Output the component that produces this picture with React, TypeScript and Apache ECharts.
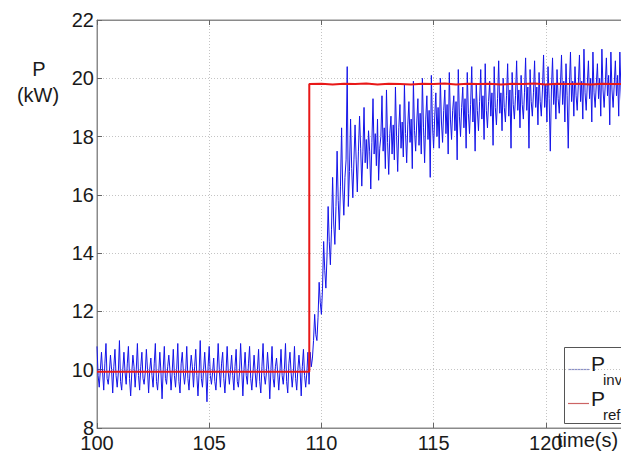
import React, { useEffect, useRef } from "react";
import * as echarts from "echarts";

// Sampling of the measured inverter power trace
const T0 = 100;
const DT = 0.05;

// Measured inverter output power (kW), one value per DT seconds from T0
const P_INV: number[] = [
  // before the set-point step (100 s .. 109.45 s)
  10.8, 9.8, 9.4, 10.0, 10.6, 9.9, 9.3, 10.2, 10.9, 9.7, 9.5, 9.9,
  10.5, 10.0, 9.2, 10.1, 10.7, 9.8, 9.4, 9.9, 11.0, 9.6, 9.3, 10.0,
  10.6, 9.9, 9.5, 10.2, 10.8, 9.7, 9.1, 9.9, 10.5, 10.1, 9.4, 10.0,
  10.9, 9.8, 9.3, 10.1, 10.6, 9.7, 9.5, 9.9, 10.7, 10.0, 9.2, 10.0,
  10.4, 9.8, 9.4, 10.2, 10.9, 9.6, 9.3, 9.9, 10.6, 9.9, 9.0, 10.0,
  10.8, 9.7, 9.5, 10.1, 10.5, 10.0, 9.3, 9.9, 10.7, 9.8, 9.4, 10.0,
  10.9, 9.6, 9.2, 10.2, 10.6, 9.9, 9.5, 9.9, 10.8, 9.7, 9.3, 10.0,
  10.5, 10.1, 9.4, 10.1, 10.7, 9.8, 9.1, 9.9, 11.0, 9.7, 9.4, 10.0,
  10.6, 9.9, 8.9, 10.1, 10.8, 9.8, 9.5, 9.9, 10.4, 9.6, 9.3, 10.0,
  10.9, 10.0, 9.4, 10.2, 10.6, 9.7, 9.2, 9.9, 10.8, 9.9, 9.5, 10.0,
  10.5, 9.8, 9.3, 10.1, 10.7, 9.6, 9.4, 9.9, 10.9, 10.0, 9.1, 10.0,
  10.6, 9.8, 9.5, 10.2, 10.8, 9.7, 9.3, 9.9, 10.5, 9.9, 9.4, 10.0,
  10.7, 9.6, 9.2, 10.1, 10.9, 9.8, 9.5, 9.9, 10.6, 10.0, 9.0, 10.0,
  10.8, 9.7, 9.4, 10.1, 10.4, 9.9, 9.3, 9.9, 10.7, 9.8, 9.5, 10.0,
  10.9, 9.6, 9.2, 10.2, 10.6, 9.9, 9.4, 9.9, 10.8, 9.7, 9.3, 10.0,
  10.5, 10.0, 9.1, 10.1, 10.7, 9.8, 9.4, 9.9, 10.6, 9.5,
  // rise after the step (109.5 s .. 111.65 s)
  10.6, 10.1, 10.4, 11.0, 11.9, 11.2, 11.0, 11.8, 13.0, 12.3, 11.9, 12.8,
  14.4, 13.4, 12.8, 13.9, 15.6, 14.4, 13.6, 14.8, 16.6, 15.0, 14.3, 15.6,
  17.5, 15.8, 14.8, 16.3, 18.3, 16.2, 15.3, 16.6, 17.2, 20.4, 15.6, 16.8,
  18.6, 16.9, 15.9, 17.2, 18.4, 17.2, 16.1, 17.5,
  // settling towards the new set-point (111.7 s .. 123.4 s)
  18.7, 17.6, 16.3, 17.5, 19.0, 17.1, 17.9, 16.9, 18.2, 17.5, 16.2, 17.8,
  19.3, 17.4, 18.1, 17.0, 18.6, 16.5, 17.6, 18.0, 19.4, 17.5, 18.3, 16.9,
  19.6, 17.8, 16.7, 18.1, 18.7, 17.4, 18.4, 17.2, 19.7, 18.0, 16.8, 18.3,
  19.1, 17.6, 18.5, 17.3, 19.8, 18.1, 17.1, 18.4, 19.2, 17.8, 18.6, 16.9,
  19.9, 18.2, 17.5, 18.5, 19.3, 17.7, 18.8, 17.4, 20.0, 18.3, 17.1, 18.6,
  19.4, 17.9, 18.9, 16.6, 20.1, 18.4, 17.6, 18.7, 19.5, 18.0, 19.0, 17.6,
  20.0, 18.5, 17.8, 18.9, 19.6, 18.1, 19.1, 17.4, 20.2, 18.6, 17.9, 18.9,
  19.4, 18.2, 19.2, 17.2, 20.3, 18.7, 18.0, 19.0, 19.7, 18.3, 19.3, 17.6,
  20.2, 18.8, 18.1, 19.1, 20.4, 18.5, 19.3, 17.5, 19.8, 18.9, 18.2, 19.2,
  20.3, 18.6, 19.4, 17.9, 20.5, 18.9, 18.3, 19.2, 19.9, 18.7, 19.5, 17.7,
  20.4, 19.0, 18.4, 19.3, 20.6, 18.8, 19.5, 18.2, 20.0, 19.0, 18.5, 19.4,
  20.5, 18.7, 19.6, 17.6, 20.2, 19.1, 18.6, 19.4, 20.6, 18.9, 19.6, 18.3,
  20.1, 19.1, 18.6, 19.5, 20.7, 18.9, 19.7, 17.6, 20.3, 19.2, 18.7, 19.5,
  20.6, 19.0, 19.7, 18.4, 20.2, 19.2, 18.7, 19.6, 20.8, 19.0, 19.8, 18.5,
  20.4, 19.3, 17.5, 19.6, 20.7, 19.1, 19.8, 18.6, 20.3, 19.3, 18.8, 19.7,
  20.8, 19.1, 19.9, 18.5, 20.5, 19.4, 17.6, 19.7, 20.9, 19.2, 19.9, 18.7,
  20.4, 19.4, 18.9, 19.8, 20.8, 19.2, 19.9, 18.6, 21.0, 19.5, 18.9, 19.8,
  20.6, 19.3, 20.0, 18.5, 20.9, 19.5, 19.0, 19.8, 20.5, 19.3, 20.0, 18.7,
  21.0, 19.6, 19.0, 19.8, 20.7, 19.4, 20.1, 18.4, 20.9, 19.6, 19.0, 19.8,
  20.6, 19.4, 20.1, 18.7, 20.9, 19.6, 18.8,
];

// Power reference (kW): step set-point
const P_REF_T: number[] = [
  100, 109.46, 109.46, 110.0, 110.5, 111.0, 111.5, 112.0, 112.5, 113.0,
  113.5, 114.0, 114.5, 115.0, 115.5, 116.0, 116.5, 117.0, 117.5, 118.0,
  118.5, 119.0, 119.5, 120.0, 120.5, 121.0, 121.5, 122.0, 122.5, 123.0,
  123.5,
];
const P_REF_V: number[] = [
  9.93, 9.93, 19.8, 19.81, 19.79, 19.81, 19.8, 19.82, 19.79, 19.81,
  19.8, 19.79, 19.81, 19.8, 19.82, 19.79, 19.81, 19.8, 19.81, 19.79,
  19.81, 19.8, 19.82, 19.79, 19.81, 19.8, 19.81, 19.79, 19.81, 19.8,
  19.81,
];

const X_MIN = 100;
const X_MAX = 125;
const X_STEP = 5;
const Y_MIN = 8;
const Y_MAX = 22;
const Y_STEP = 2;

const FONT = "'Liberation Sans', Arial, Helvetica, sans-serif";
const TEXT = "#1a1a1a";
const FRAME = "#8a8a8a";
const GRIDLINE = "#c4c4c4";

export default function App() {
  const ref = useRef<HTMLDivElement>(null);

  useEffect(() => {
    if (!ref.current) return;
    const chart = echarts.init(ref.current, undefined, { renderer: "svg" });

    const invData = P_INV.map((v, i) => [T0 + i * DT, v]);
    const refData = P_REF_T.map((t, i) => [t, P_REF_V[i]]);

    const tickLabel = {
      color: TEXT,
      fontFamily: FONT,
      fontSize: 20,
    };

    chart.setOption({
      animation: false,
      backgroundColor: "#ffffff",
      grid: {
        left: 97,
        top: 20,
        width: 561,
        height: 408,
        show: true,
        borderColor: FRAME,
        borderWidth: 1,
        backgroundColor: "transparent",
      },
      xAxis: [
        {
          type: "value",
          min: X_MIN,
          max: X_MAX,
          interval: X_STEP,
          position: "bottom",
          axisLine: { show: true, lineStyle: { color: FRAME, width: 1 } },
          axisTick: { show: true, inside: true, length: 5, lineStyle: { color: "#666" } },
          axisLabel: { ...tickLabel, margin: 5 },
          splitLine: { show: true, lineStyle: { color: GRIDLINE, type: [1, 2], width: 1 } },
        },
        {
          type: "value",
          min: X_MIN,
          max: X_MAX,
          interval: X_STEP,
          position: "top",
          axisLine: { show: true, lineStyle: { color: FRAME, width: 1 } },
          axisTick: { show: true, inside: true, length: 5, lineStyle: { color: "#666" } },
          axisLabel: { show: false },
          splitLine: { show: false },
        },
      ],
      yAxis: {
        type: "value",
        min: Y_MIN,
        max: Y_MAX,
        interval: Y_STEP,
        axisLine: { show: true, lineStyle: { color: FRAME, width: 1 } },
        axisTick: { show: true, inside: true, length: 5, lineStyle: { color: "#666" } },
        axisLabel: { ...tickLabel, margin: 3 },
        splitLine: { show: true, lineStyle: { color: GRIDLINE, type: [1, 2], width: 1 } },
      },
      series: [
        {
          name: "P_inv",
          type: "line",
          data: invData,
          showSymbol: false,
          symbol: "none",
          lineStyle: { color: "#1414e8", width: 1 },
          z: 2,
        },
        {
          name: "P_ref",
          type: "line",
          data: refData,
          showSymbol: false,
          symbol: "none",
          lineStyle: { color: "#e81818", width: 2 },
          z: 3,
        },
      ],
      graphic: [
        {
          type: "text",
          x: 39,
          y: 69,
          style: { text: "P", font: `20px ${FONT}`, fill: TEXT, align: "center", verticalAlign: "middle" },
        },
        {
          type: "text",
          x: 38,
          y: 95,
          style: { text: "(kW)", font: `20px ${FONT}`, fill: TEXT, align: "center", verticalAlign: "middle" },
        },
        {
          type: "text",
          x: 557,
          y: 440,
          z: 10,
          style: { text: "time(s)", font: `20px ${FONT}`, fill: TEXT, align: "left", verticalAlign: "middle" },
        },
        {
          type: "group",
          z: 20,
          children: [
            {
              type: "rect",
              shape: { x: 564.5, y: 347.5, width: 120, height: 76 },
              style: { fill: "#ffffff", stroke: "#555555", lineWidth: 1 },
            },
            {
              type: "line",
              shape: { x1: 568, y1: 369.5, x2: 589, y2: 369.5 },
              style: { stroke: "#8a90cc", lineWidth: 1.2 },
            },
            {
              type: "text",
              x: 591,
              y: 363,
              style: { text: "P", font: `21px ${FONT}`, fill: TEXT, align: "left", verticalAlign: "middle" },
            },
            {
              type: "text",
              x: 603,
              y: 379,
              style: { text: "inv", font: `15px ${FONT}`, fill: TEXT, align: "left", verticalAlign: "middle" },
            },
            {
              type: "line",
              shape: { x1: 568, y1: 403.5, x2: 589, y2: 403.5 },
              style: { stroke: "#cc6464", lineWidth: 1.2 },
            },
            {
              type: "text",
              x: 591,
              y: 398,
              style: { text: "P", font: `21px ${FONT}`, fill: TEXT, align: "left", verticalAlign: "middle" },
            },
            {
              type: "text",
              x: 603,
              y: 414,
              style: { text: "ref", font: `15px ${FONT}`, fill: TEXT, align: "left", verticalAlign: "middle" },
            },
          ],
        },
      ],
    });

    return () => chart.dispose();
  }, []);

  return (
    <div
      style={{
        position: "fixed",
        left: 0,
        top: 0,
        width: 621,
        height: 454,
        overflow: "hidden",
        background: "#ffffff",
      }}
    >
      <div ref={ref} style={{ width: 700, height: 454 }} />
    </div>
  );
}
